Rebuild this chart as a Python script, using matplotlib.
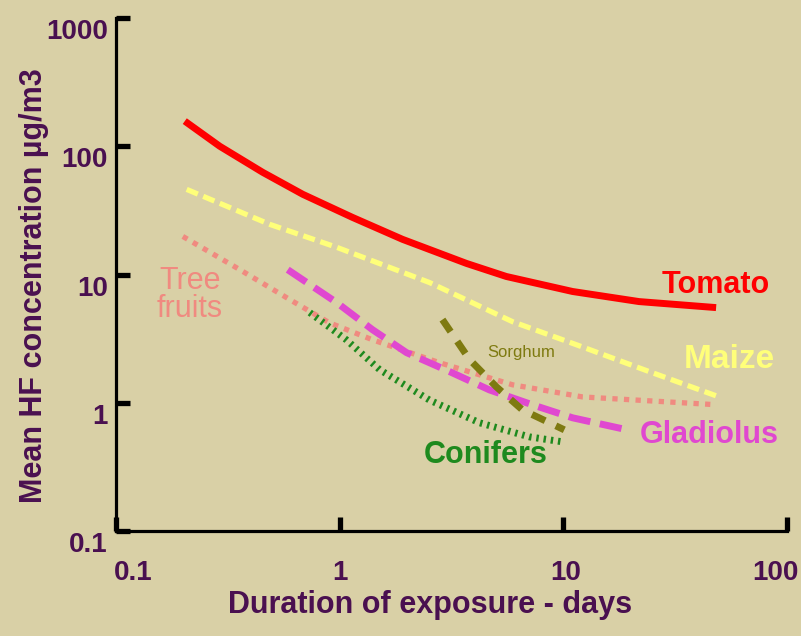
import matplotlib.pyplot as plt
import matplotlib.transforms as mtransforms

# data (days, ug/m3)
tomato_x = [0.203, 0.291, 0.453, 0.684, 1.14, 1.91, 3.69, 5.56, 11.0, 21.8, 48.2]
tomato_y = [157, 100, 62.6, 42.2, 27.9, 18.8, 12.2, 9.65, 7.37, 6.15, 5.52]

maize_x = [0.207, 0.487, 0.97, 2.52, 5.92, 11.4, 24.2, 49.8]
maize_y = [46.1, 24.6, 16.3, 8.66, 4.29, 2.84, 1.75, 1.11]

fruits_x = [0.199, 0.358, 0.598, 0.90, 1.40, 2.80, 5.93, 12.2, 48.3]
fruits_y = [19.8, 10.9, 6.38, 4.2, 3.10, 2.05, 1.38, 1.11, 0.965]

glad_x = [0.586, 0.97, 1.40, 1.99, 3.10, 4.67, 7.26, 11.0, 19.3]
glad_y = [10.9, 6.04, 3.72, 2.46, 1.75, 1.26, 0.965, 0.763, 0.615]

sorg_x = [2.88, 3.81, 5.02, 6.56, 10.1]
sorg_y = [4.45, 2.17, 1.33, 0.88, 0.615]

conif_x = [0.735, 1.07, 1.51, 2.52, 4.22, 7.05, 9.9]
conif_y = [5.05, 3.10, 1.81, 1.05, 0.698, 0.542, 0.496]

xticks = [0.1, 1, 10, 100]
yticks = [0.1, 1, 10, 100, 1000]

bg = '#D9D0A6'
purple = '#4A1050'
plt.rcParams['font.family'] = ['Liberation Sans', 'DejaVu Sans']

fig = plt.figure(figsize=(8.01, 6.36), dpi=100, facecolor=bg)
ax = fig.add_axes([116/801, 1 - 531/636, (787-116)/801, (531-18)/636])
ax.set_facecolor(bg)
ax.set_xscale('log')
ax.set_yscale('log')
ax.set_xlim(0.1, 100)
ax.set_ylim(0.1, 1000)

ax.plot(tomato_x, tomato_y, color='#FF0000', lw=5, solid_capstyle='butt',
        solid_joinstyle='round')
ax.plot(maize_x, maize_y, color='#FFFF7A', lw=3.8, ls=(0, (2.3, 1.1)))
ax.plot(fruits_x, fruits_y, color='#F08A80', lw=3.8, ls=(0, (1, 1.2)))
ax.plot(glad_x, glad_y, color='#E048D0', lw=5, ls=(0, (3.2, 1.4)))
ax.plot(sorg_x, sorg_y, color='#7E7A10', lw=5, ls=(0, (2.1, 1.7)))
ax.plot(conif_x, conif_y, color='#1E8A1E', lw=5, ls=(0, (0.35, 0.7)))

def label(px, py, s, color, size, weight='bold'):
    fig.text(px/801, 1 - py/636, s, color=color, fontsize=size,
             fontweight=weight, ha='center', va='center', linespacing=0.95)

label(716, 285, 'Tomato', '#FF0000', 22)
label(729, 360, 'Maize', '#FFFF7A', 24)
label(190, 295, 'Tree\nfruits', '#F08A80', 22, 'normal')
label(709, 435, 'Gladiolus', '#E048D0', 22)
label(486, 455, 'Conifers', '#1E8A1E', 22)
label(521, 353, 'Sorghum', '#7E7A10', 12, 'normal')

for s in ['top', 'right']:
    ax.spines[s].set_visible(False)
for s in ['left', 'bottom']:
    ax.spines[s].set_linewidth(2.3)
    ax.spines[s].set_color('black')

ax.set_xticks(xticks)
ax.set_xticklabels(['0.1', '1', '10', '100'])
ax.set_yticks(yticks)
ax.set_yticklabels(['0.1', '1', '10', '100', '1000'])
ax.minorticks_off()
ax.tick_params(direction='in', length=10, width=3.8, color='black',
               labelcolor=purple, labelsize=20)
ax.tick_params(axis='x', pad=21)
ax.tick_params(axis='y', pad=6)
for lab in ax.get_xticklabels() + ax.get_yticklabels():
    lab.set_fontweight('bold')

# small offsets of the tick labels as in the original drawing
xoff = [17, 0, 2, -12]
for lab, dx in zip(ax.get_xticklabels(), xoff):
    lab.set_transform(lab.get_transform() +
                      mtransforms.ScaledTranslation(dx/100, 0, fig.dpi_scale_trans))
for lab in ax.get_yticklabels():
    lab.set_transform(lab.get_transform() +
                      mtransforms.ScaledTranslation(0, -11/100, fig.dpi_scale_trans))

fig.text(430/801, 1 - 605/636, 'Duration of exposure - days', color=purple,
         fontsize=22, fontweight='bold', ha='center', va='center')
fig.text(34/801, 1 - 286/636, 'Mean HF concentration µg/m3', color=purple,
         fontsize=22, fontweight='bold', ha='center', va='center', rotation=90)

fig.savefig('out.png', dpi=100, facecolor=bg)
